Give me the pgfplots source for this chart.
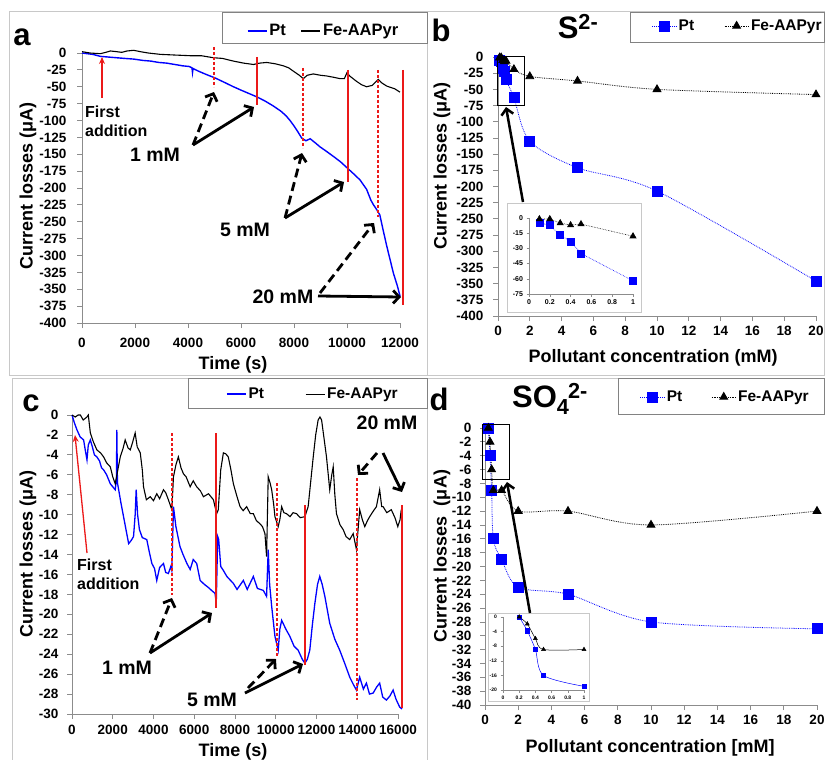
\documentclass[border=0pt]{standalone}
\usepackage{fontspec}
\setmainfont{Liberation Sans}
\usepackage{pgfplots}
\usepackage{pgfplotstable}
\pgfplotsset{compat=1.18}
\usetikzlibrary{arrows.meta}
\definecolor{framegray}{RGB}{200,200,200}
\definecolor{leggray}{RGB}{130,130,130}
\definecolor{axgray}{RGB}{140,140,140}
\definecolor{myred}{RGB}{235,25,25}
\newcommand{\tfont}{\fontsize{13.5}{14}\selectfont\bfseries}
\newcommand{\lfont}{\fontsize{18}{20}\selectfont\bfseries}
\newcommand{\gfont}{\fontsize{15.5}{17}\selectfont\bfseries}
\newcommand{\afont}{\fontsize{19.5}{21}\selectfont\bfseries}
\newcommand{\ffont}{\fontsize{16}{19}\selectfont\bfseries}
\newcommand{\pfont}{\fontsize{31}{31}\selectfont\bfseries}
\pgfplotsset{
  panel/.style={
    scale only axis, anchor=south west,
    axis lines=left, axis line style={axgray,-,line width=0.8pt},
    tick style={axgray, line width=0.8pt},
    tick align=outside, major tick length=5pt,
    clip=false,
    ticklabel style={font=\tfont},
    /pgf/number format/assume math mode=true,
    /pgf/number format/set thousands separator={},
    scaled ticks=false,
    legend style={draw=none, fill=none, font=\gfont, inner sep=0pt, outer sep=0pt, anchor=west},
    legend columns=2,
  },
  inset/.style={
    scale only axis, anchor=south west,
    axis lines=left, axis line style={axgray,-,line width=0.5pt},
    tick style={axgray, line width=0.5pt},
    tick align=outside, major tick length=2.5pt,
    clip=false,
    /pgf/number format/assume math mode=true,
    scaled ticks=false,
  },
  linelegend/.style={legend image code/.code={\draw[#1] (0pt,0pt) -- (19pt,0pt);}},
  marklegend/.style={legend image code/.code={\draw[mark repeat=2,mark phase=2,#1] plot coordinates {(0pt,0pt)(12pt,0pt)(24pt,0pt)};}},
}
\pgfplotstableread{
t I
0 0
200 -1
400 -2
700 -5
1000 -6
1300 -7
1600 -8
1950 -9
2300 -11
2600 -12
2900 -14
3200 -15
3500 -17
3800 -19
4050 -20
4150 -22
4170 -29
4190 -23
4400 -27
4700 -32
5025 -37
5400 -44
5715 -50
6000 -55
6300 -60
6600 -65
6900 -71
7200 -78
7500 -86
7700 -93
7850 -100
8000 -108
8150 -117
8290 -126
8450 -130
8610 -127
8800 -133
8980 -139
9200 -145
9480 -153
9750 -161
10000 -170
10250 -179
10490 -188
10740 -202
10900 -218
11000 -225
11120 -232
11240 -240
11350 -260
11500 -286
11650 -310
11750 -326
11900 -345
12000 -360
}\aPt
\pgfplotstableread{
t I
0 2
300 0
690 -1
900 1
1070 3
1300 2
1500 1
1700 3
1950 4
2200 2
2500 0
2950 -2
3500 -3
4080 -4
4500 -4
4960 -7
5300 -8
5715 -12
6100 -15
6470 -17
6700 -15
6970 -14
7300 -16
7600 -19
7800 -22
7980 -27
8200 -33
8350 -38
8500 -33
8730 -31
9000 -33
9230 -34
9500 -36
9740 -38
9900 -38
10000 -29
10100 -34
10360 -42
10550 -47
10740 -50
10950 -48
11180 -39
11300 -44
11500 -49
11800 -53
12000 -58
}\aFe
\pgfplotstableread{
c I
0.1 -5
0.2 -7
0.3 -17
0.4 -23
0.5 -35
1 -63
2 -130
5 -171
10 -207
20 -346
}\bPt
\pgfplotstableread{
c I
0.1 -1
0.2 -1
0.3 -5
0.4 -7
0.5 -6
1 -19
2 -30
5 -37
10 -50
20 -58
}\bFe
\pgfplotstableread{
c I
0.1 -5
0.2 -7
0.3 -17
0.4 -23
0.5 -35
1 -62
}\bPtIn
\pgfplotstableread{
c I
0.1 -1
0.2 -1
0.3 -5
0.4 -7
0.5 -6
1 -18
}\bFeIn
\pgfplotstableread{
t I
0 0
120 -0.8
245 -1.5
400 -2.2
570 -2.5
650 -3.5
735 -4.5
800 -3
900 -2.5
1000 -3.2
1100 -4
1220 -4.2
1350 -4.6
1450 -5.3
1550 -5.5
1700 -6
1880 -6.9
2000 -7.2
2120 -7.5
2180 -6.5
2200 -1.5
2230 -6.8
2290 -7.5
2400 -8.8
2530 -10.2
2650 -11.5
2780 -12.9
2900 -12.6
3020 -12.2
3100 -10
3150 -7.5
3220 -10
3310 -11.5
3450 -12.3
3670 -12.5
3800 -13.8
3920 -14.9
4050 -15.4
4160 -16.6
4300 -15.3
4490 -14.9
4600 -15.8
4730 -15.9
4850 -15.2
4900 -15.6
4980 -9.2
5100 -11.2
5300 -13.2
5450 -14
5640 -14.9
5800 -15.5
5950 -14.5
6120 -14.9
6290 -16.6
6500 -17
6690 -17.3
6850 -17.6
7020 -17.9
7080 -18.9
7150 -12.2
7200 -12.5
7300 -15.2
7430 -15.6
7600 -16.2
7920 -16.9
8100 -17.5
8410 -16.6
8600 -17.5
8900 -16.2
9100 -17.4
9390 -17.6
9550 -18.2
9630 -13.5
9700 -17
9800 -19.2
9960 -22.2
10120 -23.6
10200 -21.5
10290 -20.6
10500 -21.5
10690 -22.2
10900 -23.2
11100 -23.6
11300 -24.5
11430 -24.9
11550 -24.5
11670 -23.6
11800 -21
11920 -18.9
12050 -17
12160 -16.2
12280 -17
12410 -18.2
12650 -20.9
12900 -22.5
13140 -23.6
13400 -25
13630 -26.3
13800 -27
13960 -27.6
14120 -26.3
14300 -27.5
14450 -26.9
14600 -28
14780 -27.9
14950 -27.3
15100 -26.9
15250 -28.3
15430 -28.6
15600 -28.2
15760 -27.6
15900 -28.5
16080 -29.3
16200 -29.5
}\cPt
\pgfplotstableread{
t I
0 0
160 -0.2
300 0
410 0
550 -0.5
735 -0.2
800 0
900 -1.8
1050 -2.7
1220 -3.5
1400 -3.8
1550 -4.2
1700 -4.8
1880 -5.2
2000 -6.2
2120 -6.9
2250 -5.5
2370 -4.2
2500 -3.4
2610 -2.5
2750 -3.3
2860 -3.5
2980 -2.7
3100 -1.8
3200 -3.2
3350 -3.8
3450 -5.5
3510 -7.2
3650 -8.5
3840 -8.2
4000 -8.6
4160 -7.9
4300 -8.4
4490 -7.5
4600 -7.8
4730 -8.5
4900 -9.5
4980 -6.2
5100 -5
5220 -4.2
5350 -5.3
5470 -5.9
5600 -6.2
5800 -7.2
5950 -6.6
6120 -7.2
6300 -7.6
6450 -8.2
6700 -7.9
6940 -8.5
7100 -9.9
7180 -9.5
7300 -5.5
7430 -3.8
7550 -3.9
7670 -4.2
7800 -5.5
7920 -6.9
8100 -8.2
8250 -9.2
8400 -9.6
8570 -9.2
8750 -9.9
8900 -9.9
9050 -10.6
9220 -10.9
9350 -11.2
9470 -11.9
9550 -14.2
9630 -6.2
9720 -6.8
9800 -7.5
9900 -9
9960 -10.2
10120 -11.2
10200 -10.5
10290 -9.2
10400 -9.8
10530 -9.9
10700 -10.2
10850 -9.8
11020 -9.9
11200 -10.3
11430 -10.2
11590 -9.2
11700 -7
11840 -4.2
11960 -2
12080 -0.5
12170 -0.2
12250 -0.5
12380 -2.5
12490 -4.2
12650 -7.5
12750 -6
12820 -5.2
12900 -8
12980 -9.9
13150 -11
13310 -11.5
13450 -12.2
13630 -12.5
13800 -11.9
13960 -13.5
14120 -9.5
14250 -10.5
14370 -11.2
14500 -10.6
14610 -10.2
14800 -9.6
14940 -9.2
15100 -7.5
15200 -9.2
15270 -9.2
15450 -9.8
15670 -9.5
15850 -10.3
15990 -11.2
16100 -10.5
16160 -9.5
}\cFe
\pgfplotstableread{
c I
0.2 0
0.3 -4
0.4 -9
0.5 -16
1 -19
2 -23
5 -24
10 -28
20 -29
}\dPt
\pgfplotstableread{
c I
0.2 0
0.3 -2
0.4 -6
0.5 -9
1 -9
2 -12
5 -12
10 -14
20 -12
}\dFe
\pgfplotstableread{
c I
0.2 0
0.3 -3.8
0.4 -8.9
0.5 -16
1 -19
}\dPtIn
\pgfplotstableread{
c I
0.2 0
0.3 -1.9
0.4 -5.9
0.5 -8.9
1 -8.9
}\dFeIn
\begin{document}
\begin{tikzpicture}
\path[use as bounding box] (0pt,0pt) rectangle (825pt,-760pt);
\begin{scope}[x=1pt,y=-1pt]
  \draw[framegray, line width=0.8pt] (9,11) rectangle (427,375);
  \draw[framegray, line width=0.8pt] (427,11) -- (824.5,11) -- (824.5,375) -- (427,375);
  \draw[framegray, line width=0.8pt] (12,760) -- (12,378) -- (824.5,378);
  \draw[framegray, line width=0.8pt] (427,378) -- (427,760);
  % legend boxes
  \draw[leggray, line width=0.8pt] (222,12) rectangle (427,43);
  \draw[leggray, line width=0.8pt] (630,12) rectangle (824.5,42);
  \draw[leggray, line width=0.8pt] (188,378) rectangle (427,408);
  \draw[leggray, line width=0.8pt] (618,378) rectangle (824.5,414);
\end{scope}
% ---------------- panel a
\begin{axis}[panel, at={(82pt,-323pt)}, width=318pt, height=270pt,
  xmin=0, xmax=12000, ymin=-400, ymax=0,
  xtick={0,2000,...,12000}, ytick={-400,-375,...,0},
  yticklabel style={xshift=-7pt}, xticklabel style={yshift=-7pt},
  linelegend,
  legend style={at={(axis description cs:0.519,1.0815)}, font=\fontsize{16.5}{18}\selectfont\bfseries},
  /tikz/every even column/.append style={column sep=13pt}]
\addplot[blue, line width=1.4pt] table[x=t,y=I] {\aPt};
\addlegendentry{Pt}
\addplot[black, line width=1.1pt] table[x=t,y=I] {\aFe};
\addlegendentry{Fe-AAPyr}
\end{axis}
% ---------------- panel b
\begin{axis}[panel, at={(498pt,-316pt)}, width=318pt, height=259pt,
  xmin=0, xmax=20, ymin=-400, ymax=0,
  xtick={0,2,...,20}, ytick={-400,-375,...,0},
  yticklabel style={xshift=-6pt}, xticklabel style={yshift=-2pt},
  marklegend,
  legend style={at={(axis description cs:0.484,1.12)}},
  /tikz/every even column/.append style={column sep=28pt}]
\addplot[blue, densely dotted, line width=0.8pt, smooth, mark=square*, mark size=5pt, mark options={solid, fill=blue, draw=blue}] table[x=c,y=I] {\bPt};
\addlegendentry{Pt}
\addplot[black, densely dotted, line width=0.8pt, smooth, mark=triangle*, mark size=4.5pt, mark options={solid, fill=black}] table[x=c,y=I] {\bFe};
\addlegendentry{Fe-AAPyr}
\end{axis}
% ---------------- panel c
\begin{axis}[panel, at={(72pt,-714pt)}, width=326pt, height=299pt,
  xmin=0, xmax=16000, ymin=-30, ymax=0,
  xtick={0,2000,...,16000}, ytick={-30,-28,...,0},
  yticklabel style={xshift=-5pt}, xticklabel style={yshift=-3pt},
  linelegend,
  legend style={at={(axis description cs:0.473,1.07)}},
  /tikz/every even column/.append style={column sep=39pt}]
\addplot[blue, line width=1.3pt] table[x=t,y=I] {\cPt};
\addlegendentry{Pt}
\addplot[black, line width=1.1pt] table[x=t,y=I] {\cFe};
\addlegendentry{Fe-AAPyr}
\end{axis}
% ---------------- panel d
\begin{axis}[panel, at={(485pt,-705pt)}, width=332pt, height=277pt,
  xmin=0, xmax=20, ymin=-40, ymax=0,
  xtick={0,2,...,20}, ytick={-40,-38,...,0},
  yticklabel style={xshift=-5pt}, xticklabel style={yshift=-2pt},
  marklegend,
  legend style={at={(axis description cs:0.467,1.112)}},
  /tikz/every even column/.append style={column sep=27pt}]
\addplot[blue, densely dotted, line width=0.8pt, smooth, mark=square*, mark size=5pt, mark options={solid, fill=blue, draw=blue}] table[x=c,y=I] {\dPt};
\addlegendentry{Pt}
\addplot[black, densely dotted, line width=0.8pt, smooth, mark=triangle*, mark size=4.5pt, mark options={solid, fill=black}] table[x=c,y=I] {\dFe};
\addlegendentry{Fe-AAPyr}
\end{axis}
% inset frames
\begin{scope}[x=1pt,y=-1pt]
  \draw[framegray, fill=white, line width=0.8pt] (507,203) rectangle (641,312);
  \draw[framegray, fill=white, line width=0.8pt] (488,613) rectangle (589,701);
\end{scope}
% ---------------- inset b
\begin{axis}[inset, at={(529pt,-294pt)}, width=104pt, height=76pt,
  xmin=0, xmax=1, ymin=-75, ymax=0,
  xtick={0,0.2,0.4,0.6,0.8,1}, ytick={-75,-60,-45,-30,-15,0},
  ticklabel style={font=\fontsize{7}{8}\selectfont\bfseries}]
\addplot[blue, densely dotted, line width=0.6pt, mark=square*, mark size=3.5pt, mark options={solid, fill=blue}] table[x=c,y=I] {\bPtIn};
\addplot[black, densely dotted, line width=0.6pt, mark=triangle*, mark size=3.5pt, mark options={solid, fill=black}] table[x=c,y=I] {\bFeIn};
\end{axis}
% ---------------- inset d
\begin{axis}[inset, at={(503pt,-690pt)}, width=81pt, height=73pt,
  xmin=0, xmax=1, ymin=-20, ymax=0,
  xtick={0,0.2,0.4,0.6,0.8,1}, ytick={-20,-16,-12,-8,-4,0},
  ticklabel style={font=\fontsize{5}{6}\selectfont\bfseries}]
\addplot[blue, line width=0.5pt, smooth, mark=square*, mark size=2.2pt, mark options={fill=blue}] table[x=c,y=I] {\dPtIn};
\addplot[black, line width=0.5pt, smooth, mark=triangle*, mark size=2.3pt, mark options={fill=black}] table[x=c,y=I] {\dFeIn};
\end{axis}
% ---------------- annotations
\begin{scope}[x=1pt,y=-1pt,
   solidarr/.style={black, line width=2.8pt, -{Straight Barb[length=6pt,width=13pt]}},
   dasharr/.style={black, line width=2.8pt, dash pattern=on 9pt off 5pt, -{Straight Barb[length=6pt,width=13pt]}},
   redsolid/.style={myred, line width=1.5pt},
   reddash/.style={myred, line width=1.5pt, dash pattern=on 3pt off 2pt}]
  % labels
  \node[font=\pfont] at (22,37) {a};
  \node[font=\pfont] at (441,30) {b};
  \node[font=\pfont] at (31,403) {c};
  \node[font=\pfont] at (439,399) {d};
  \node[font=\pfont] at (578,27) {S\textsuperscript{2-}};
  \node[font=\pfont, anchor=west, inner sep=0pt] at (512,399) {SO\textsubscript{4}\kern-0.05em\textsuperscript{2-}};
  \node[font=\lfont, rotate=90] at (28,186) {Current losses (μA)};
  \node[font=\lfont, rotate=90] at (442,166) {Current losses (μA)};
  \node[font=\lfont, rotate=90] at (28,554) {Current losses (μA)};
  \node[font=\lfont, rotate=90] at (442,556) {Current losses\ \ (μA)};
  \node[font=\lfont] at (233,365) {Time (s)};
  \node[font=\lfont] at (653,358) {Pollutant concentration (mM)};
  \node[font=\lfont] at (233,752) {Time (s)};
  \node[font=\lfont] at (650,748) {Pollutant concentration [mM]};
  % panel a
  \draw[myred, line width=1.3pt, -{Stealth[length=7pt,width=6pt]}] (102,98) -- (102,57);
  \node[font=\ffont, anchor=west, align=left, inner sep=0pt] at (85,121) {First\\addition};
  \draw[reddash] (214,47) -- (214,87);
  \draw[redsolid] (257,57) -- (257,105);
  \draw[reddash] (303,68) -- (303,148);
  \draw[redsolid] (348,70) -- (348,182);
  \draw[reddash] (378,70) -- (378,217);
  \draw[redsolid] (403,70) -- (403,305);
  \node[font=\afont] at (155,155) {1 mM};
  \draw[dasharr] (193,145) -- (214,92);
  \draw[solidarr] (193,145) -- (254,107);
  \node[font=\afont] at (245,230) {5 mM};
  \draw[dasharr] (285,218) -- (302,153);
  \draw[solidarr] (285,218) -- (344,182);
  \node[font=\afont] at (283,297) {20 mM};
  \draw[dasharr] (320,293) -- (374,223);
  \draw[solidarr] (318,296) -- (401,297);
  % panel b
  \draw[black, line width=0.9pt] (497,56) rectangle (524,105);
  \draw[black, line width=2.5pt, -{Straight Barb[length=6pt,width=12pt]}] (523,202) -- (506,107);
  % panel c
  \draw[myred, line width=1.3pt, -{Stealth[length=7pt,width=6pt]}] (87,553) -- (75,435);
  \node[font=\ffont, anchor=west, align=left, inner sep=0pt] at (77,574) {First\\addition};
  \draw[reddash] (172,433) -- (172,595);
  \draw[redsolid] (216,433) -- (216,608);
  \draw[reddash] (277,483) -- (277,657);
  \draw[redsolid] (305,505) -- (305,665);
  \draw[reddash] (357,478) -- (357,700);
  \draw[redsolid] (402,505) -- (402,708);
  \node[font=\afont] at (127,668) {1 mM};
  \draw[dasharr] (150,653) -- (172,598);
  \draw[solidarr] (150,653) -- (212,613);
  \node[font=\afont] at (212,700) {5 mM};
  \draw[dasharr] (248,688) -- (276,659);
  \draw[solidarr] (245,693) -- (303,664);
  \node[font=\afont] at (387,423) {20 mM};
  \draw[dasharr] (377,453) -- (358,475);
  \draw[solidarr] (383,453) -- (402,492);
  % panel d
  \draw[black, line width=0.9pt] (482,424) rectangle (509,479);
  \draw[black, line width=2.5pt, -{Straight Barb[length=6pt,width=12pt]}] (530,613) -- (507,482);
\end{scope}
\end{tikzpicture}
\end{document}
